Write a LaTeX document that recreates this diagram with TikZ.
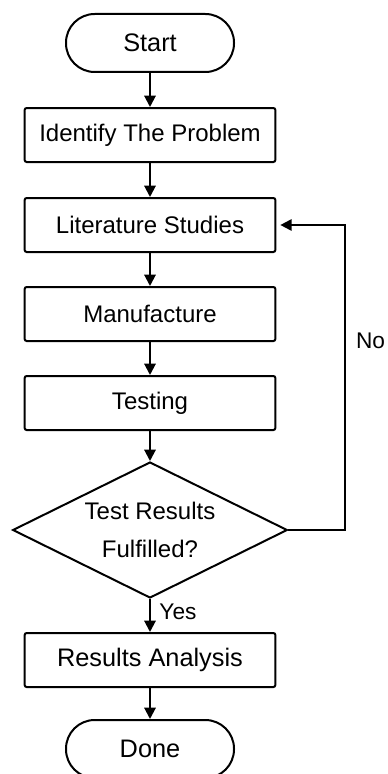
\documentclass[tikz,border=0pt]{standalone}
\usepackage{fontspec}
\setmainfont{Liberation Sans}
\usetikzlibrary{positioning,shapes.geometric,arrows.meta}

\tikzset{
	proc/.style={draw, line width=1.5pt, rounded corners=1.5pt, minimum width=188pt, minimum height=40.5pt, font=\fontsize{18}{22}\selectfont},
	term/.style={draw, line width=1.5pt, rounded corners=21.5pt, minimum width=126pt, minimum height=43.5pt, font=\fontsize{19}{23}\selectfont},
	decision/.style={draw, diamond, aspect=2.02, line width=1.5pt, minimum width=206pt, minimum height=102pt, inner sep=0pt, align=center, font=\fontsize{18}{28.5}\selectfont},
	lbl/.style={font=\fontsize{17}{20}\selectfont},
	arr/.style={line width=1.5pt, -{Triangle[length=8.5pt,width=8.5pt]}}
}

\begin{document}
\begin{tikzpicture}[node distance=66.75pt]
	\useasboundingbox (0,0) rectangle (291pt,-580.5pt);
	\node (start) [term] at (112.5pt,-32.25pt) {Start};
	\node (ident) [proc, below of=start, node distance=69pt] {Identify The Problem};
	\node (lit) [proc, below of=ident, node distance=67.5pt] {Literature Studies};
	\node (manu) [proc, below of=lit] {Manufacture};
	\node (test) [proc, below of=manu] {Testing};
	\node (dec) [decision, below of=test, node distance=95.25pt] {Test Results\\Fulfilled?};
	\node (res) [proc, below of=dec, node distance=97.5pt, font=\fontsize{19}{23}\selectfont] {Results Analysis};
	\node (done) [term, below of=res, node distance=66.75pt] {Done};
	\draw [arr] (start) to (ident);
	\draw [arr] (ident) to (lit);
	\draw [arr] (lit) to (manu);
	\draw [arr] (manu) to (test);
	\draw [arr] (test) to (dec);
	\draw [arr] (dec) to node [lbl, right=3pt, pos=0.4] {Yes} (res);
	\draw [arr] (res) to (done);
	\draw [arr] (dec.east) -- ++(42.75pt,0) |- node [lbl, right=4pt, pos=0.31] {No} ([xshift=3pt]lit.east);
\end{tikzpicture}
\end{document}
